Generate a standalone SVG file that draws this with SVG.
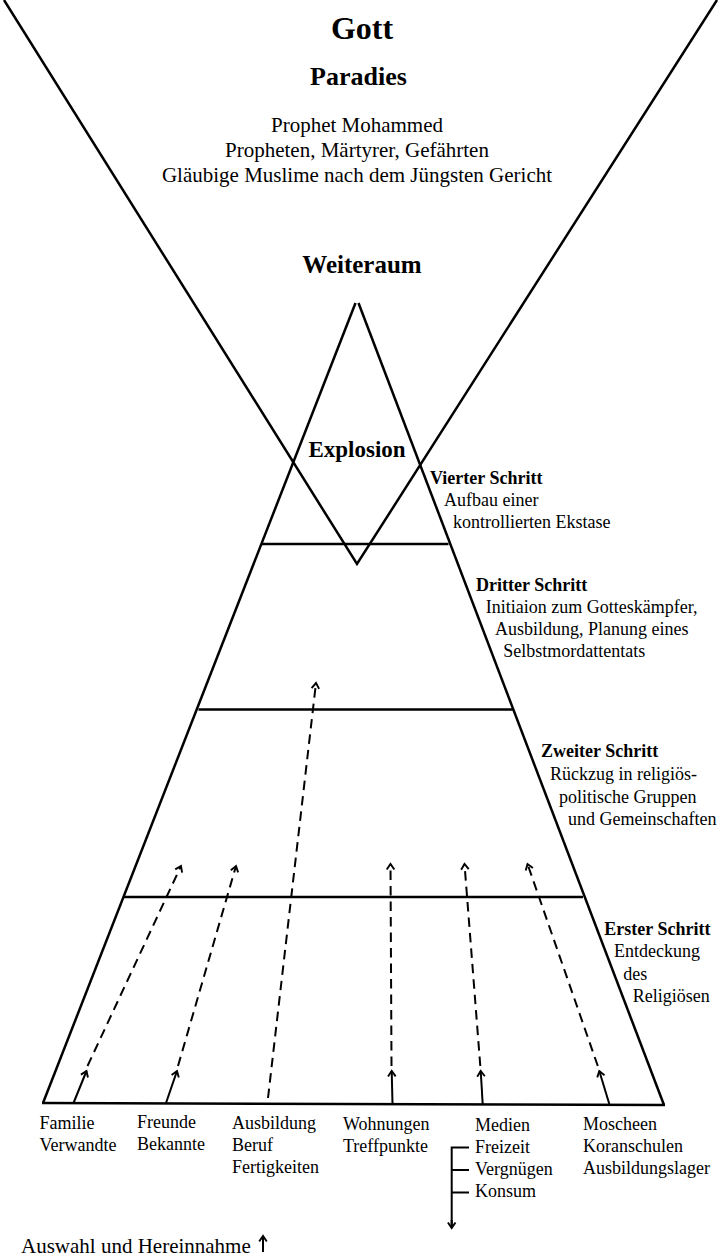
<svg xmlns="http://www.w3.org/2000/svg" width="722" height="1257" viewBox="0 0 722 1257">
<style>
text{font-family:"Liberation Serif","Times New Roman",serif;fill:#000}
.t{font-size:21px}
.b{font-weight:bold}
.s{font-size:18px}
.ln{stroke:#000;stroke-width:2.5;fill:none;stroke-linecap:butt}
.ar{stroke:#000;stroke-width:2;fill:none}
.da{stroke:#000;stroke-width:2;fill:none;stroke-dasharray:9.5 6}
</style>
<defs>
<marker id="chev" viewBox="-8 -6 10 12" markerWidth="10" markerHeight="12" refX="0" refY="0" orient="auto" markerUnits="userSpaceOnUse">
<path d="M-5.5,-3.8 L0,0 L-5.5,3.8" fill="none" stroke="#000" stroke-width="1.9"/>
</marker>
</defs>
<rect width="722" height="1257" fill="#fff"/>
<g id="heaven">
<text x="362" y="39" text-anchor="middle" class="b" font-size="32">Gott</text>
<text x="358.5" y="85" text-anchor="middle" class="b" font-size="26">Paradies</text>
<text x="357" y="131.7" text-anchor="middle" class="t">Prophet Mohammed</text>
<text x="357" y="156.7" text-anchor="middle" class="t">Propheten, Märtyrer, Gefährten</text>
<text x="357" y="181.7" text-anchor="middle" class="t">Gläubige Muslime nach dem Jüngsten Gericht</text>
<text x="362" y="273.3" text-anchor="middle" class="b" font-size="25">Weiteraum</text>
</g>
<g id="funnel">
<polyline class="ln" points="4,0 357,564 717,0"/>
</g>
<g id="pyramid">
<line class="ln" x1="355.5" y1="303" x2="43" y2="1103"/>
<line class="ln" x1="358.5" y1="303" x2="664" y2="1105"/>
<line class="ln" x1="261.5" y1="544" x2="448.5" y2="544"/>
<line class="ln" x1="198.5" y1="709.5" x2="513.5" y2="709.5"/>
<line class="ln" x1="124" y1="897" x2="583" y2="897"/>
<line class="ln" x1="42" y1="1103" x2="665" y2="1105"/>
</g>
<g id="explosion">
<text x="357" y="457" text-anchor="middle" class="b" font-size="23">Explosion</text>
</g>
<g id="step4">
<text x="430" y="484" class="s b">Vierter Schritt</text>
<text x="444" y="505.5" class="s">Aufbau einer</text>
<text x="453" y="527.7" class="s">kontrollierten Ekstase</text>
</g>
<g id="step3">
<text x="476" y="590.7" class="s b">Dritter Schritt</text>
<text x="485.7" y="613.3" class="s">Initiaion zum Gotteskämpfer,</text>
<text x="495" y="635.3" class="s">Ausbildung, Planung eines</text>
<text x="503.3" y="657" class="s">Selbstmordattentats</text>
</g>
<g id="step2">
<text x="541" y="757.3" class="s b">Zweiter Schritt</text>
<text x="550" y="780" class="s">Rückzug in religiös-</text>
<text x="559" y="802.7" class="s">politische Gruppen</text>
<text x="568" y="825.3" class="s">und Gemeinschaften</text>
</g>
<g id="step1">
<text x="604.3" y="935" class="s b">Erster Schritt</text>
<text x="614" y="957.3" class="s">Entdeckung</text>
<text x="623.3" y="979.7" class="s">des</text>
<text x="632.7" y="1001.7" class="s">Religiösen</text>
</g>
<g id="connectors">
<line class="ar" x1="73.5" y1="1103" x2="86.5" y2="1071" marker-end="url(#chev)"/>
<line class="da" x1="87.5" y1="1066" x2="181" y2="866" marker-end="url(#chev)"/>
<line class="ar" x1="166" y1="1103" x2="177" y2="1071" marker-end="url(#chev)"/>
<line class="da" x1="178" y1="1066" x2="236" y2="866" marker-end="url(#chev)"/>
<line class="da" x1="268" y1="1098" x2="316" y2="683" marker-end="url(#chev)"/>
<line class="ar" x1="392.5" y1="1104" x2="391.7" y2="1071" marker-end="url(#chev)"/>
<line class="da" x1="391.5" y1="1066" x2="390.5" y2="864" marker-end="url(#chev)"/>
<line class="ar" x1="482.7" y1="1104" x2="480.7" y2="1071" marker-end="url(#chev)"/>
<line class="da" x1="480.3" y1="1066" x2="464.5" y2="864" marker-end="url(#chev)"/>
<line class="ar" x1="609.3" y1="1104" x2="599.3" y2="1071" marker-end="url(#chev)"/>
<line class="da" x1="597.8" y1="1066" x2="527.5" y2="864" marker-end="url(#chev)"/>
<path class="ar" d="M469,1147.5 H451.7 V1227 M451.7,1170 H469 M451.7,1192.5 H469" stroke-width="2.5"/>
<line class="ar" x1="451.7" y1="1220" x2="451.7" y2="1228" marker-end="url(#chev)" stroke-width="2.5"/>
<line class="ar" x1="263" y1="1252" x2="263" y2="1236" marker-end="url(#chev)" stroke-width="2.4"/>
</g>
<g id="sources">
<text x="39.5" y="1128.5" class="s">Familie</text>
<text x="39.5" y="1150.5" class="s">Verwandte</text>
<text x="137" y="1128" class="s">Freunde</text>
<text x="137" y="1150" class="s">Bekannte</text>
<text x="232" y="1128.5" class="s">Ausbildung</text>
<text x="232" y="1150.5" class="s">Beruf</text>
<text x="232" y="1172.5" class="s">Fertigkeiten</text>
<text x="343" y="1129.5" class="s">Wohnungen</text>
<text x="343" y="1151.5" class="s">Treffpunkte</text>
<text x="475" y="1130.7" class="s">Medien</text>
<text x="475" y="1152.7" class="s">Freizeit</text>
<text x="475" y="1174.5" class="s">Vergnügen</text>
<text x="475" y="1196.7" class="s">Konsum</text>
<text x="583" y="1129.5" class="s">Moscheen</text>
<text x="583" y="1151.5" class="s">Koranschulen</text>
<text x="583" y="1173.5" class="s">Ausbildungslager</text>
</g>
<g id="legend">
<text x="21" y="1253" font-size="21">Auswahl und Hereinnahme</text>
</g>
</svg>
